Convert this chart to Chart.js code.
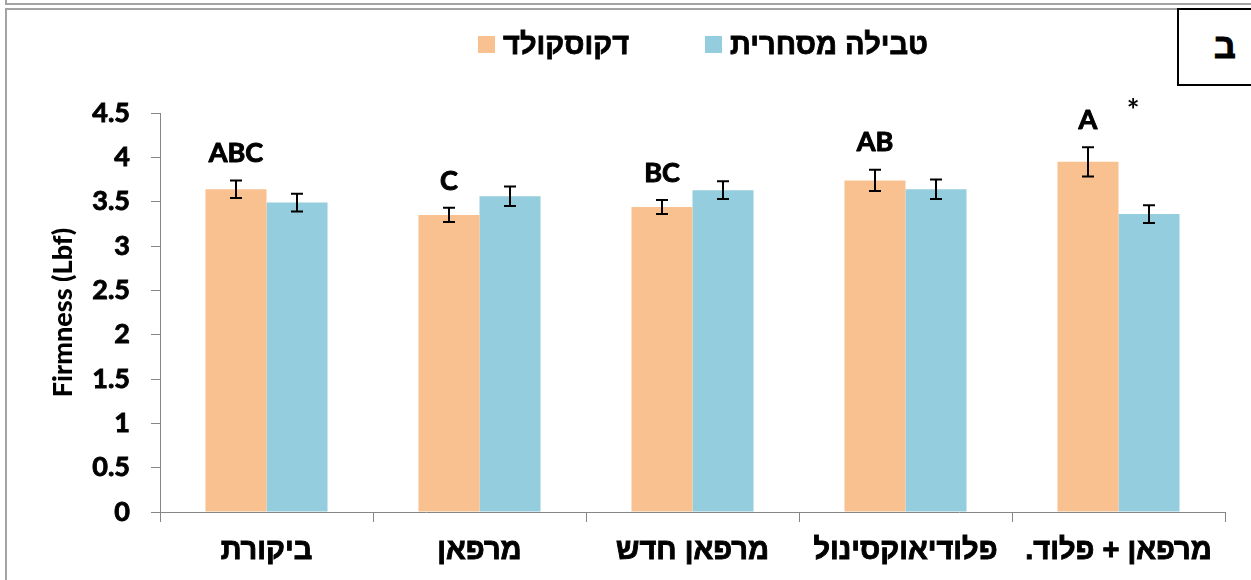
<!DOCTYPE html>
<html lang="he">
<head>
<meta charset="utf-8">
<title>Firmness (Lbf)</title>
<script src="https://cdn.jsdelivr.net/npm/chart.js@4.4.1/dist/chart.umd.min.js"></script>
<style>
  html, body { margin: 0; padding: 0; background: #ffffff; }
  body { width: 1251px; height: 580px; position: relative; overflow: hidden; }
  .frame-top { position: absolute; left: 5px; top: -20px; width: 1300px; height: 23px;
               border-left: 2px solid #a3a3a3; border-bottom: 2px solid #a3a3a3; }
  .frame-main { position: absolute; left: 5px; top: 8px; width: 1300px; height: 600px;
                border-left: 2px solid #a3a3a3; border-top: 2px solid #a3a3a3; }
  .panel-box { position: absolute; left: 1177px; top: 8px; width: 100px; height: 74px;
               border: 2px solid #000; background: #fff; z-index: 3; }
  .panel-box span { position: absolute; left: 35px; top: 18px; font: bold 34px "Liberation Sans", "DejaVu Sans", sans-serif;
                    line-height: 36px; -webkit-text-stroke: 1px #000; }
  .legend { position: absolute; left: 0; top: 28px; width: 1406px; display: flex; justify-content: center;
            align-items: center; z-index: 2; }
  .legend .item { display: flex; align-items: center; margin: 0 38px; }
  .legend .swatch { width: 17px; height: 17px; margin-right: 8px; }
  .legend .text { font: bold 29px "Liberation Sans Narrow", "Liberation Sans", sans-serif; line-height: 32px; color: #000;
                  -webkit-text-stroke: 0.8px #000; }
  #wrap { position: absolute; left: 0; top: 0; width: 1251px; height: 580px; z-index: 1; }
</style>
</head>
<body>
<div class="frame-top"></div>
<div class="frame-main"></div>
<div class="panel-box"><span>ב</span></div>
<div class="legend" id="legend"></div>
<div id="wrap"><canvas id="chart" width="1251" height="580"></canvas></div>
<script>
// Treatments (x categories)
const categories = ['ביקורת', 'מרפאן', 'מרפאן חדש', 'פלודיאוקסינול', 'מרפאן + פלוד.'];

// Series names
const seriesNames = ['דקוסקולד', 'טבילה מסחרית'];
const seriesColors = ['#F9C18F', '#94CDDD'];

// Mean firmness (Lbf) and standard errors
const dekoskoldValues = [3.64, 3.35, 3.44, 3.74, 3.95];
const dekoskoldErrors = [0.10, 0.08, 0.08, 0.12, 0.165];
const dippingValues = [3.49, 3.56, 3.63, 3.64, 3.36];
const dippingErrors = [0.10, 0.11, 0.10, 0.11, 0.10];

// Significance letters between treatments, and marks between the two series
const groupLetters = ['ABC', 'C', 'BC', 'AB', 'A'];
const seriesMarks = ['', '', '', '', '*'];

// Value axis
const yMin = 0;
const yMax = 4.5;
const yStep = 0.5;

const latinFont = 'Lato, "Open Sans", sans-serif';
const hebrewFont = '"Liberation Sans Narrow", "Liberation Sans", sans-serif';

// HTML legend
const legendEl = document.getElementById('legend');
seriesNames.forEach((name, i) => {
  const item = document.createElement('div');
  item.className = 'item';
  const sw = document.createElement('div');
  sw.className = 'swatch';
  sw.style.background = seriesColors[i];
  const tx = document.createElement('span');
  tx.className = 'text';
  tx.dir = 'rtl';
  tx.textContent = name;
  item.appendChild(sw);
  item.appendChild(tx);
  legendEl.appendChild(item);
});

const errorArrays = [dekoskoldErrors, dippingErrors];

// Draws standard-error whiskers on every bar
const errorBars = {
  id: 'errorBars',
  afterDatasetsDraw(chart) {
    const { ctx } = chart;
    const y = chart.scales.y;
    ctx.save();
    ctx.strokeStyle = '#000';
    ctx.lineWidth = 2;
    chart.data.datasets.forEach((ds, di) => {
      const meta = chart.getDatasetMeta(di);
      meta.data.forEach((bar, i) => {
        const v = ds.data[i];
        const e = errorArrays[di][i];
        const top = y.getPixelForValue(v + e);
        const bot = y.getPixelForValue(v - e);
        const x = Math.round(bar.x);
        ctx.beginPath();
        ctx.moveTo(x, top); ctx.lineTo(x, bot);
        ctx.moveTo(x - 6, top); ctx.lineTo(x + 6, top);
        ctx.moveTo(x - 6, bot); ctx.lineTo(x + 6, bot);
        ctx.stroke();
      });
    });
    ctx.restore();
  }
};

// Letters above the first series and asterisk marks
const sigLabels = {
  id: 'sigLabels',
  afterDatasetsDraw(chart) {
    const { ctx } = chart;
    const y = chart.scales.y;
    const m0 = chart.getDatasetMeta(0);
    const m1 = chart.getDatasetMeta(1);
    ctx.save();
    ctx.fillStyle = '#000';
    ctx.strokeStyle = '#000';
    ctx.lineWidth = 1;
    ctx.lineJoin = 'round';
    ctx.textAlign = 'center';
    ctx.textBaseline = 'middle';
    groupLetters.forEach((txt, i) => {
      const top = y.getPixelForValue(dekoskoldValues[i] + dekoskoldErrors[i]);
      const ly = top - 27;
      ctx.font = 'bold 27px ' + latinFont;
      ctx.fillText(txt, m0.data[i].x, ly);
      ctx.strokeText(txt, m0.data[i].x, ly);
      if (seriesMarks[i]) {
        ctx.font = 'bold 30px ' + latinFont;
        ctx.fillText(seriesMarks[i], m1.data[i].x - 16, ly - 9);
      }
    });
    ctx.restore();
  }
};

new Chart(document.getElementById('chart'), {
  type: 'bar',
  data: {
    labels: categories,
    datasets: [
      { label: seriesNames[0], data: dekoskoldValues, backgroundColor: seriesColors[0],
        borderWidth: 0, categoryPercentage: 0.573, barPercentage: 1.0 },
      { label: seriesNames[1], data: dippingValues, backgroundColor: seriesColors[1],
        borderWidth: 0, categoryPercentage: 0.573, barPercentage: 1.0 }
    ]
  },
  options: {
    responsive: false,
    animation: false,
    layout: { padding: { top: 113, right: 26, bottom: 0, left: 0 } },
    plugins: {
      legend: { display: false },
      tooltip: { enabled: false }
    },
    scales: {
      x: {
        grid: { display: true, drawOnChartArea: false, drawTicks: true, tickLength: 10,
                color: '#868686', lineWidth: 1, offset: true },
        border: { display: true, color: '#868686', width: 1 },
        ticks: {
          color: '#000', padding: 12, maxRotation: 0, autoSkip: false,
          textStrokeColor: '#000', textStrokeWidth: 0.9,
          font: { family: hebrewFont, size: 29, weight: 'bold' },
          callback(value) { return categories[value] + '\u200F'; }
        },
        afterFit(scale) { scale.height = 68; }
      },
      y: {
        min: yMin, max: yMax,
        grid: { display: true, drawOnChartArea: false, drawTicks: true, tickLength: 9,
                color: '#868686', lineWidth: 1 },
        border: { display: true, color: '#868686', width: 1 },
        ticks: {
          stepSize: yStep, color: '#000', padding: 21,
          textStrokeColor: '#000', textStrokeWidth: 0.9,
          font: { family: latinFont, size: 27, weight: 'bold' },
          callback(value) { return String(value); }
        },
        title: {
          display: true, text: 'Firmness (Lbf)', color: '#000',
          font: { family: latinFont, size: 27, weight: '900' },
          padding: { top: 47, bottom: 0 }
        },
        afterFit(scale) { scale.width = 160; }
      }
    }
  },
  plugins: [errorBars, sigLabels]
});
</script>
</body>
</html>
